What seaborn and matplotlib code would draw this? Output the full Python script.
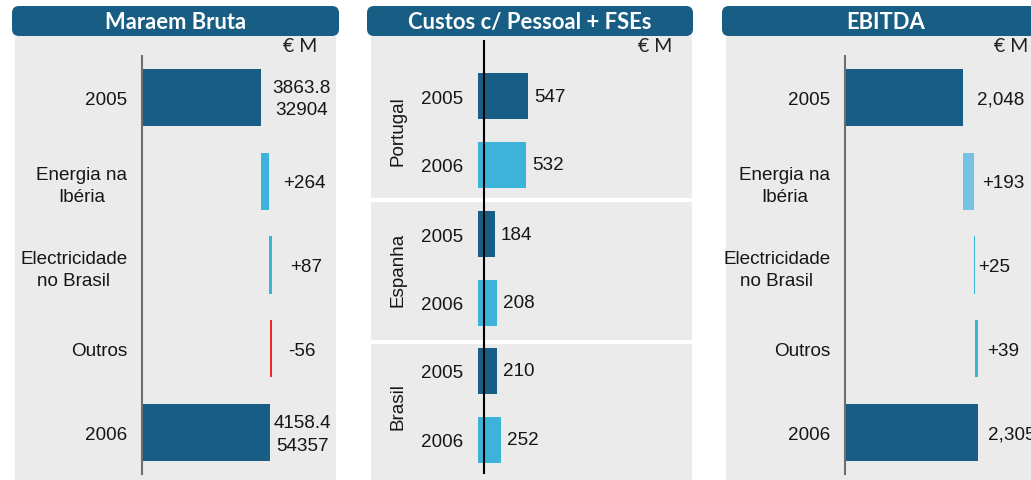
import numpy as np
import pandas as pd
import matplotlib
matplotlib.use("Agg")
import matplotlib.pyplot as plt
from matplotlib.patches import Rectangle, FancyBboxPatch
import seaborn as sns

# --- data ---
bridge_labels = ["2005", "Energia na\nIbéria", "Electricidade\nno Brasil", "Outros", "2006"]
margem_values = [3863.8, 264, 87, -56, 4158.4]
margem_text = ["3863.8\n32904", "+264", "+87", "-56", "4158.4\n54357"]
ebitda_values = [2048, 193, 25, 39, 2305]
ebitda_text = ["2,048", "+193", "+25", "+39", "2,305"]

countries = ["Portugal", "Espanha", "Brasil"]
years = ["2005", "2006"]
custos_2005 = [547, 184, 210]
custos_2006 = [532, 208, 252]

titles = ["Maraem Bruta", "Custos c/ Pessoal + FSEs", "EBITDA"]

# --- style ---
DARK = "#175d84"
LIGHT = "#3db3da"
PALE = "#76c2e4"
RED = "#ec2a2e"
GRAY = "#ebebeb"
TXT = "#161616"
FS = 13.6

sns.set_theme(style="white")
plt.rcParams["font.family"] = ["Liberation Sans", "DejaVu Sans"]
TITLE_FONT = ["Lato", "DejaVu Sans"]

W, H = 1031, 481
fig = plt.figure(figsize=(W / 100, H / 100), dpi=100)


def px_rect(x0, y0, x1, y1):
    return [x0 / W, 1 - y1 / H, (x1 - x0) / W, (y1 - y0) / H]


# background layer in pixel coordinates
bg = fig.add_axes([0, 0, 1, 1])
bg.set_xlim(0, W)
bg.set_ylim(H, 0)
bg.axis("off")

gray_boxes = [(15, 37, 336, 481), (371, 37, 692, 199), (371, 203, 692, 341),
              (371, 345, 692, 481), (726, 37, 1040, 481)]
for x0, y0, x1, y1 in gray_boxes:
    bg.add_patch(Rectangle((x0, y0), x1 - x0, y1 - y0, color=GRAY, lw=0))

title_boxes = [(12, 339), (367, 693), (722, 1050)]
r = 7
for (x0, x1), t in zip(title_boxes, titles):
    bg.add_patch(FancyBboxPatch((x0 + r, 7 + r), x1 - x0 - 2 * r, 30 - 2 * r,
                                boxstyle=f"round,pad={r}", fc=DARK, ec="none"))
    bg.text((x0 + x1) / 2, 22.5, t, color="white", fontsize=15.8, fontweight="bold",
            family=TITLE_FONT, ha="center", va="center")

for x in [300, 655, 1011]:
    bg.text(x, 47, "€ M", fontsize=14, family=TITLE_FONT, ha="center", va="center",
            color="#222222")


def bridge(rect, values, texts, colors, xmax, offsets):
    ax = fig.add_axes(px_rect(*rect))
    ax.patch.set_alpha(0)
    running = 0
    n = len(values)
    for i, v in enumerate(values):
        if i == 0 or i == n - 1:
            left, width = 0, v
            running = v
        else:
            left = running if v > 0 else running + v
            width = abs(v)
            running += v
        ax.barh(i, width, left=left, height=0.68, color=colors[i], lw=0)
        ax.annotate(texts[i], xy=(left + width, i), xytext=(offsets[i] * 0.72, -1),
                    textcoords="offset points", ha="left", va="center",
                    multialignment="center", fontsize=FS, linespacing=1.45,
                    color=TXT)
    ax.set_xlim(0, xmax)
    ax.set_ylim(n - 0.51, -0.49)
    ax.set_yticks(range(n))
    ax.set_yticklabels(bridge_labels, multialignment="center", fontsize=FS,
                       linespacing=1.38, color=TXT)
    ax.tick_params(axis="y", length=0, pad=10.5)
    ax.set_xticks([])
    for s in ["top", "right", "bottom"]:
        ax.spines[s].set_visible(False)
    ax.spines["left"].set_color("#6e6e6e")
    ax.spines["left"].set_linewidth(1.5)
    return ax


bridge((142, 57, 335, 475), margem_values, margem_text,
       [DARK, LIGHT, LIGHT, RED, DARK], 193 / 0.0308, [11, 14, 18, 16, 4])
bridge((845, 57, 1031, 475), ebitda_values, ebitda_text,
       [DARK, PALE, LIGHT, LIGHT, DARK], 186 / 0.0575, [14, 8, 3, 10, 10])

# --- custos panel ---
sub_rects = [(478, 62.5, 692, 200.5), (478, 200.5, 692, 338.5), (478, 337.5, 692, 475.5)]
for k, country in enumerate(countries):
    df = pd.DataFrame({"ano": years, "valor": [custos_2005[k], custos_2006[k]]})
    ax = fig.add_axes(px_rect(*sub_rects[k]))
    ax.patch.set_alpha(0)
    sns.barplot(data=df, y="ano", x="valor", hue="ano", palette=[DARK, LIGHT],
                orient="h", width=0.667, legend=False, ax=ax, saturation=1,
                linewidth=0, edgecolor="none")
    for c in ax.containers:
        ax.bar_label(c, padding=4.5, fontsize=FS, color=TXT)
    ax.set_xlim(0, 214 / 0.0905)
    ax.set_ylim(1.5, -0.5)
    ax.set_xlabel("")
    ax.set_ylabel("")
    ax.set_xticks([])
    ax.tick_params(axis="y", length=0, pad=10.5, labelsize=FS, labelcolor=TXT)
    sns.despine(ax=ax, left=True, bottom=True)
    ax.text(-80 / 214, 0.5, country, rotation=90, transform=ax.transAxes,
            ha="center", va="center", fontsize=FS, color=TXT)

line_ax = fig.add_axes(px_rect(484, 42, 692, 474))
line_ax.patch.set_alpha(0)
line_ax.set_xticks([])
line_ax.set_yticks([])
for s in ["top", "right", "bottom"]:
    line_ax.spines[s].set_visible(False)
line_ax.spines["left"].set_color("black")
line_ax.spines["left"].set_linewidth(1.5)

fig.savefig("out.png", dpi=100)
